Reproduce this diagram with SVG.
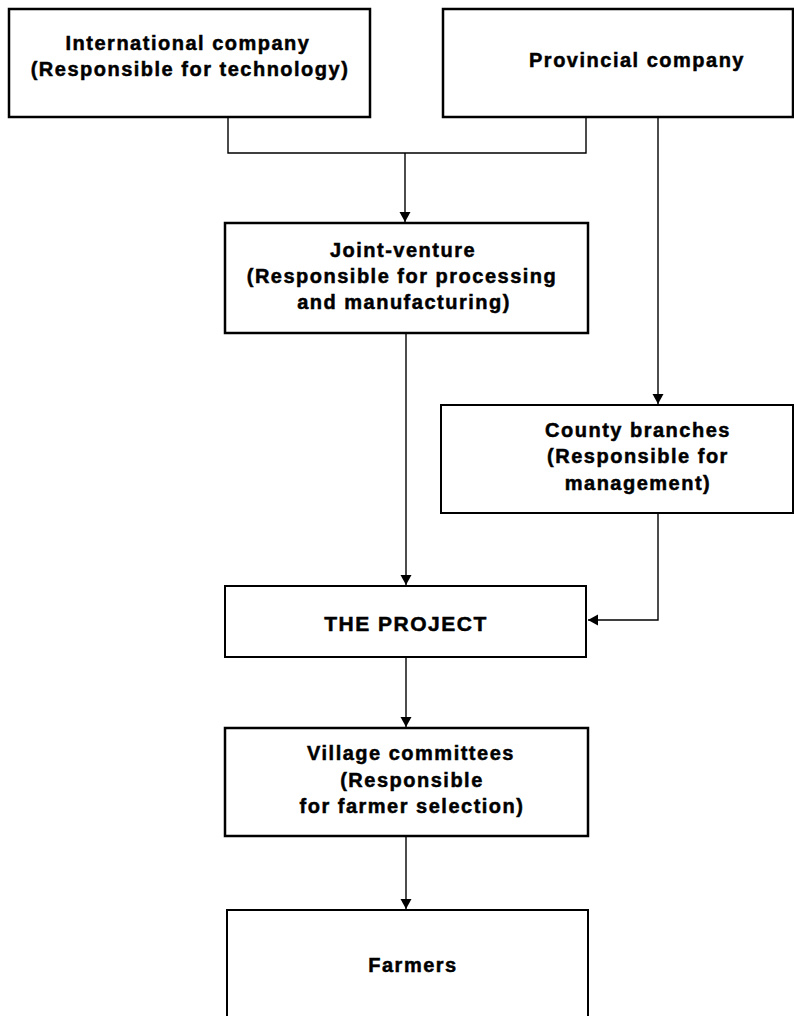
<svg xmlns="http://www.w3.org/2000/svg" width="794" height="1016" viewBox="0 0 794 1016">
<defs>
<style>
.box{fill:#fff;stroke:#000;stroke-width:2}
.thick{fill:#fff;stroke:#000;stroke-width:2.5}
.t{font-family:"Liberation Sans",Arial,Helvetica,sans-serif;font-weight:bold;font-size:20px;letter-spacing:1.5px;text-anchor:middle;fill:#000;stroke:#000;stroke-width:0.5}
.big{font-size:21px}
.c{fill:none;stroke:#000;stroke-width:1.4}
</style>
<marker id="ah" viewBox="0 0 10 12" refX="10" refY="6" markerWidth="10" markerHeight="12" markerUnits="userSpaceOnUse" orient="auto">
<path d="M0,0.5 L10,6 L0,11.5 z" fill="#000"/>
</marker>
</defs>
<rect width="794" height="1016" fill="#fff"/>
<g id="connectors">
<path class="c" d="M228,117 V153 H586 V117"/>
<path class="c" d="M405,153 V222" marker-end="url(#ah)"/>
<path class="c" d="M658,117 V404" marker-end="url(#ah)"/>
<path class="c" d="M406,333 V585" marker-end="url(#ah)"/>
<path class="c" d="M658,513 V620 H588" marker-end="url(#ah)"/>
<path class="c" d="M406,657 V727" marker-end="url(#ah)"/>
<path class="c" d="M406,836 V909" marker-end="url(#ah)"/>
</g>
<g id="international">
<rect class="thick" x="9" y="9" width="361" height="108"/>
<text class="t" x="188" y="50">International company</text>
<text class="t" x="190" y="76">(Responsible for technology)</text>
</g>
<g id="provincial">
<rect class="thick" x="443" y="9" width="350" height="108"/>
<text class="t" x="637" y="67">Provincial company</text>
</g>
<g id="joint-venture">
<rect class="thick" x="225" y="223" width="363" height="110"/>
<text class="t" x="403" y="257">Joint-venture</text>
<text class="t" x="402" y="283">(Responsible for processing</text>
<text class="t" x="404" y="309">and manufacturing)</text>
</g>
<g id="county">
<rect class="box" x="441" y="405" width="352" height="108"/>
<text class="t" x="638" y="437">County branches</text>
<text class="t" x="638" y="463">(Responsible for</text>
<text class="t" x="638" y="490">management)</text>
</g>
<g id="project">
<rect class="box" x="225" y="586" width="361" height="71"/>
<text class="t big" x="406" y="631">THE PROJECT</text>
</g>
<g id="village">
<rect class="thick" x="225" y="728" width="363" height="108"/>
<text class="t" x="411" y="760">Village committees</text>
<text class="t" x="412" y="787">(Responsible</text>
<text class="t" x="412" y="813">for farmer selection)</text>
</g>
<g id="farmers">
<rect class="box" x="227" y="910" width="361" height="130"/>
<text class="t" x="413" y="972">Farmers</text>
</g>
</svg>
